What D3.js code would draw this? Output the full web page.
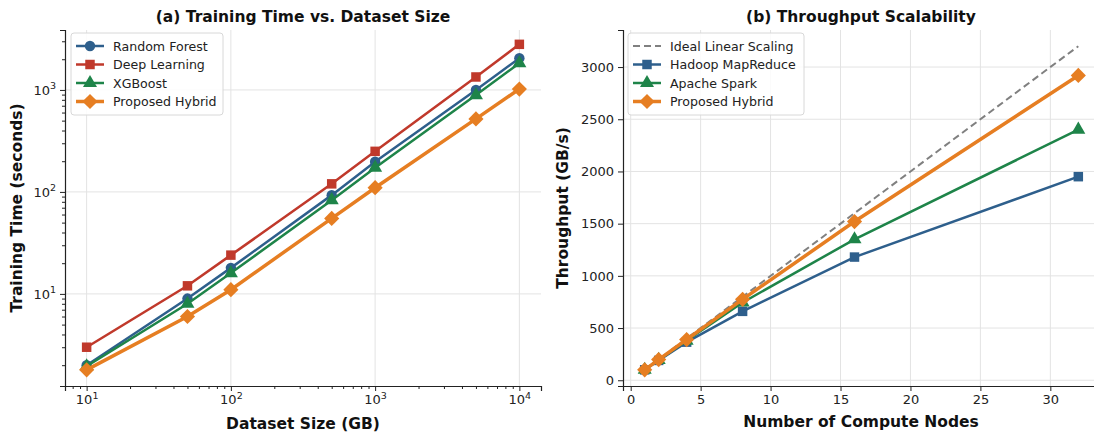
<!DOCTYPE html>
<html>
<head>
<meta charset="utf-8">
<script src="https://cdn.jsdelivr.net/npm/d3@7"></script>
<style>
  body { margin: 0; background: #fff; }
  svg { font-family: "DejaVu Sans", sans-serif; }
</style>
</head>
<body>
<svg id="canvas"></svg>
<script>
// Data
let sizes = [10, 50, 100, 500, 1000, 5000, 10000];
let rfTimes = [2.0, 9, 18, 93, 198, 1000, 2050];
let dlTimes = [3.0, 12, 24, 120, 250, 1340, 2800];
let xgbTimes = [1.95, 8, 16, 83, 173, 890, 1830];
let hybridTimes = [1.8, 6, 11, 55, 110, 520, 1020];

let nodes = [1, 2, 4, 8, 16, 32];
let idealTput = [100, 200, 400, 800, 1600, 3200];
let hadoopTput = [100, 190, 365, 660, 1180, 1950];
let sparkTput = [100, 195, 380, 745, 1350, 2400];
let hybridTput = [100, 198, 390, 775, 1520, 2920];

let xTicksRight = [0, 5, 10, 15, 20, 25, 30];
let yTicksRight = [0, 500, 1000, 1500, 2000, 2500, 3000];
let decadesX = [10, 100, 1000, 10000];
let decadesY = [10, 100, 1000];

let colors = {
  blue: "#2e5f8c",
  red: "#c0392b",
  green: "#1e8449",
  orange: "#e67e22",
  gray: "#808080"
};

let width = 1094;
let height = 434;

let canvas = d3.select("#canvas").attr("width", width).attr("height", height);

let plotTop = 30, plotBottom = 386;

// Left panel scales
let xLeft = d3.scaleLog().domain([10 / Math.pow(10, 0.15), 10000 * Math.pow(10, 0.15)]).range([65, 541]);
let yLeft = d3.scaleLog().domain([1.25, 3870]).range([plotBottom, plotTop]);

// Right panel scales
let xRight = d3.scaleLinear().domain([-0.55, 33.55]).range([623, 1100]);
let yRight = d3.scaleLinear().domain([-55, 3355]).range([plotBottom, plotTop]);

let minorTicks = (lo, hi) => {
  let out = [];
  for (let e = lo; e <= hi; e++) {
    for (let m = 2; m <= 9; m++) out.push(m * Math.pow(10, e));
  }
  return out;
};

let supFormat = (sel) => {
  sel.each(function (d) {
    let t = d3.select(this);
    t.text("10");
    t.append("tspan").attr("dy", "-0.55em").attr("font-size", "9.5px").text(Math.round(Math.log10(d)));
  });
};

let styleAxis = (g) => {
  g.select(".domain").attr("stroke", "#222").attr("stroke-width", 1.2);
  g.selectAll(".tick line").attr("stroke", "#222");
  g.selectAll(".tick text").attr("font-size", "13px").attr("fill", "#222").attr("font-family", "DejaVu Sans, sans-serif");
};

// ---------- grids ----------
let drawGrid = (xs, ys, xScale, yScale) => {
  let g = canvas.append("g");
  let [x0, x1] = xScale.range();
  let [y0, y1] = yScale.range();
  g.selectAll(".vg").data(xs).enter().append("line")
    .attr("x1", (d) => xScale(d)).attr("x2", (d) => xScale(d))
    .attr("y1", y0).attr("y2", y1)
    .attr("stroke", "#e3e3e3").attr("stroke-width", 1);
  g.selectAll(".hg").data(ys).enter().append("line")
    .attr("x1", x0).attr("x2", x1)
    .attr("y1", (d) => yScale(d)).attr("y2", (d) => yScale(d))
    .attr("stroke", "#e3e3e3").attr("stroke-width", 1);
};

drawGrid(decadesX, decadesY, xLeft, yLeft);
drawGrid(xTicksRight, yTicksRight, xRight, yRight);

// ---------- markers ----------
let markerPath = (kind) => {
  if (kind === "circle") return d3.symbol(d3.symbolCircle, 85)();
  if (kind === "square") return d3.symbol(d3.symbolSquare, 90)();
  if (kind === "triangle") return d3.symbol(d3.symbolTriangle, 85)();
  if (kind === "diamond") return d3.symbol(d3.symbolSquare, 115)();
  return null;
};

let drawSeries = (xs, ys, xScale, yScale, color, kind, lw, dashed) => {
  let pts = xs.map((x, i) => [x, ys[i]]);
  let line = d3.line().x((d) => xScale(d[0])).y((d) => yScale(d[1]));
  canvas.append("path").datum(pts)
    .attr("d", line)
    .attr("fill", "none")
    .attr("stroke", color)
    .attr("stroke-width", lw)
    .attr("stroke-dasharray", dashed ? "7,4" : null);
  if (kind) {
    canvas.append("g").selectAll("path").data(pts).enter().append("path")
      .attr("d", markerPath(kind))
      .attr("transform", (d) => "translate(" + xScale(d[0]) + "," + yScale(d[1]) + ")" + (kind === "diamond" ? " rotate(45)" : ""))
      .attr("fill", color);
  }
};

// Left panel series
drawSeries(sizes, rfTimes, xLeft, yLeft, colors.blue, "circle", 2.5);
drawSeries(sizes, dlTimes, xLeft, yLeft, colors.red, "square", 2.5);
drawSeries(sizes, xgbTimes, xLeft, yLeft, colors.green, "triangle", 2.5);
drawSeries(sizes, hybridTimes, xLeft, yLeft, colors.orange, "diamond", 3.5);

// Right panel series
drawSeries(nodes, idealTput, xRight, yRight, colors.gray, null, 2, true);
drawSeries(nodes, hadoopTput, xRight, yRight, colors.blue, "square", 2.5);
drawSeries(nodes, sparkTput, xRight, yRight, colors.green, "triangle", 2.5);
drawSeries(nodes, hybridTput, xRight, yRight, colors.orange, "diamond", 3.5);

// ---------- axes ----------
let gxl = canvas.append("g").attr("transform", "translate(0," + plotBottom + ")")
  .call(d3.axisBottom(xLeft).tickValues(decadesX).tickSize(5).tickPadding(4));
gxl.call(styleAxis);
gxl.selectAll(".tick text").call(supFormat);
canvas.append("g").attr("transform", "translate(0," + plotBottom + ")")
  .call(d3.axisBottom(xLeft).tickValues(minorTicks(0, 3).filter((d) => d > xLeft.domain()[0] && d < xLeft.domain()[1])).tickSize(3).tickFormat(""))
  .call((g) => { g.select(".domain").remove(); g.selectAll("line").attr("stroke", "#222"); });

let gyl = canvas.append("g").attr("transform", "translate(65,0)")
  .call(d3.axisLeft(yLeft).tickValues(decadesY).tickSize(5).tickPadding(4));
gyl.call(styleAxis);
gyl.selectAll(".tick text").call(supFormat);
canvas.append("g").attr("transform", "translate(65,0)")
  .call(d3.axisLeft(yLeft).tickValues(minorTicks(0, 3).filter((d) => d > yLeft.domain()[0] && d < yLeft.domain()[1])).tickSize(3).tickFormat(""))
  .call((g) => { g.select(".domain").remove(); g.selectAll("line").attr("stroke", "#222"); });

let gxr = canvas.append("g").attr("transform", "translate(0," + plotBottom + ")")
  .call(d3.axisBottom(xRight).tickValues(xTicksRight).tickSize(5).tickPadding(4).tickFormat(d3.format("d")));
gxr.call(styleAxis);

let gyr = canvas.append("g").attr("transform", "translate(623,0)")
  .call(d3.axisLeft(yRight).tickValues(yTicksRight).tickSize(5).tickPadding(4).tickFormat(d3.format("d")));
gyr.call(styleAxis);

// ---------- titles and labels ----------
let addText = (x, y, txt, size, rotate) => {
  canvas.append("text")
    .attr("x", x).attr("y", y)
    .attr("text-anchor", "middle")
    .attr("font-weight", "bold")
    .attr("font-size", size)
    .attr("fill", "#111")
    .attr("transform", rotate ? "rotate(-90," + x + "," + y + ")" : null)
    .text(txt);
};

addText(303, 22, "(a) Training Time vs. Dataset Size", "15.5px");
addText(861, 22, "(b) Throughput Scalability", "15.5px");
addText(303, 429, "Dataset Size (GB)", "15.5px");
addText(861, 427, "Number of Compute Nodes", "15.5px");
addText(22, 208, "Training Time (seconds)", "15.5px", true);
addText(568, 208, "Throughput (GB/s)", "15.5px", true);

// ---------- legends ----------
let drawLegend = (x, y, w, items) => {
  let g = canvas.append("g").attr("transform", "translate(" + x + "," + y + ")");
  g.append("rect").attr("width", w).attr("height", 82).attr("rx", 3)
    .attr("fill", "#fff").attr("fill-opacity", 0.85)
    .attr("stroke", "#d8d8d8");
  items.forEach((it, i) => {
    let cy = 13 + i * 18.5;
    g.append("line").attr("x1", 5).attr("x2", 33).attr("y1", cy).attr("y2", cy)
      .attr("stroke", it.color).attr("stroke-width", it.lw)
      .attr("stroke-dasharray", it.dashed ? "7,4" : null);
    if (it.kind) {
      g.append("path").attr("d", markerPath(it.kind))
        .attr("transform", "translate(19," + cy + ")" + (it.kind === "diamond" ? " rotate(45)" : ""))
        .attr("fill", it.color);
    }
    g.append("text").attr("x", 42).attr("y", cy + 4.5)
      .attr("font-size", "12.6px").attr("fill", "#222").text(it.label);
  });
};

drawLegend(71, 33, 152, [
  { label: "Random Forest", color: colors.blue, kind: "circle", lw: 2.5 },
  { label: "Deep Learning", color: colors.red, kind: "square", lw: 2.5 },
  { label: "XGBoost", color: colors.green, kind: "triangle", lw: 2.5 },
  { label: "Proposed Hybrid", color: colors.orange, kind: "diamond", lw: 3.5 }
]);

drawLegend(628, 33, 176, [
  { label: "Ideal Linear Scaling", color: colors.gray, kind: null, lw: 2, dashed: true },
  { label: "Hadoop MapReduce", color: colors.blue, kind: "square", lw: 2.5 },
  { label: "Apache Spark", color: colors.green, kind: "triangle", lw: 2.5 },
  { label: "Proposed Hybrid", color: colors.orange, kind: "diamond", lw: 3.5 }
]);
</script>
</body>
</html>
